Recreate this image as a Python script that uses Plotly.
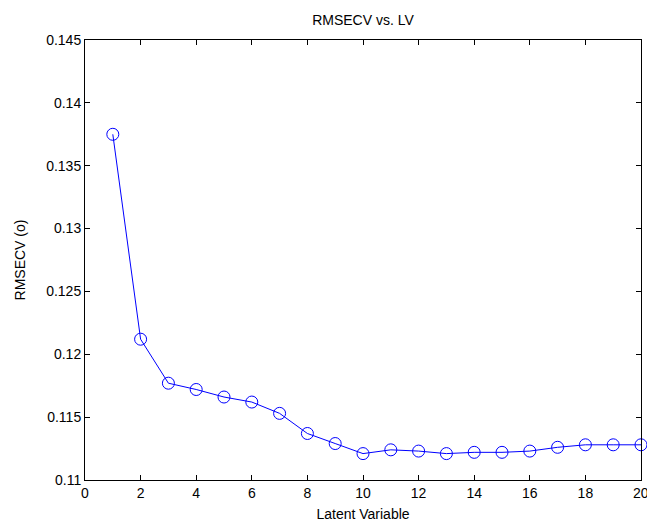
import plotly.graph_objects as go

lv = list(range(1, 21))
rmsecv = [0.1375, 0.1212, 0.1177, 0.1172, 0.1166, 0.1162, 0.1153, 0.1137, 0.1129, 0.1121,
          0.1124, 0.1123, 0.1121, 0.1122, 0.1122, 0.1123, 0.1126, 0.1128, 0.1128, 0.1128]
x_ticks = [0, 2, 4, 6, 8, 10, 12, 14, 16, 18, 20]
y_ticks = [0.11, 0.115, 0.12, 0.125, 0.13, 0.135, 0.14, 0.145]
y_tick_text = ["0.11", "0.115", "0.12", "0.125", "0.13", "0.135", "0.14", "0.145"]

fig = go.Figure()
fig.add_trace(go.Scatter(
    x=lv, y=rmsecv, mode="lines+markers",
    line=dict(color="#0000FF", width=1),
    marker=dict(symbol="circle-open", size=12, color="#0000FF", line=dict(width=1)),
    cliponaxis=False, showlegend=False,
))

font = "Liberation Sans, Arial, sans-serif"
axis_common = dict(
    showline=True, linecolor="black", linewidth=1, mirror="ticks",
    ticks="inside", ticklen=5, tickcolor="black", tickwidth=1,
    showgrid=False, zeroline=False, automargin=False,
    tickfont=dict(family=font, size=14, color="black"),
)
fig.update_xaxes(range=[0, 20], tickvals=x_ticks, ticktext=[str(v) for v in x_ticks],
                 title=dict(text="Latent Variable", font=dict(family=font, size=14, color="black"), standoff=9),
                 **axis_common)
fig.update_yaxes(range=[0.11, 0.145], tickvals=y_ticks, ticktext=y_tick_text,
                 title=dict(text="RMSECV (o)", font=dict(family=font, size=14, color="black"), standoff=17),
                 **axis_common)

# the last tick label overflows the figure edge; plotly drops it, so draw it as an annotation
# (it is clipped by the figure edge as in the reference)
fig.add_annotation(x=x_ticks[-1], xref="x", y=0, yref="paper", yanchor="top", xanchor="center",
                   text=str(x_ticks[-1]), showarrow=False, yshift=-3,
                   font=dict(family=font, size=14, color="black"))

fig.update_layout(
    width=647, height=523,
    margin=dict(l=85, r=6, t=40, b=43),
    paper_bgcolor="white", plot_bgcolor="white",
    title=dict(text="RMSECV vs. LV", x=0.5, xanchor="center", xref="paper", y=0.962, yanchor="middle",
               font=dict(family=font, size=14, color="black")),
)
fig.write_html("out.html", config={"displayModeBar": False},
               post_script="document.body.style.margin='0';document.body.style.overflow='hidden';")
